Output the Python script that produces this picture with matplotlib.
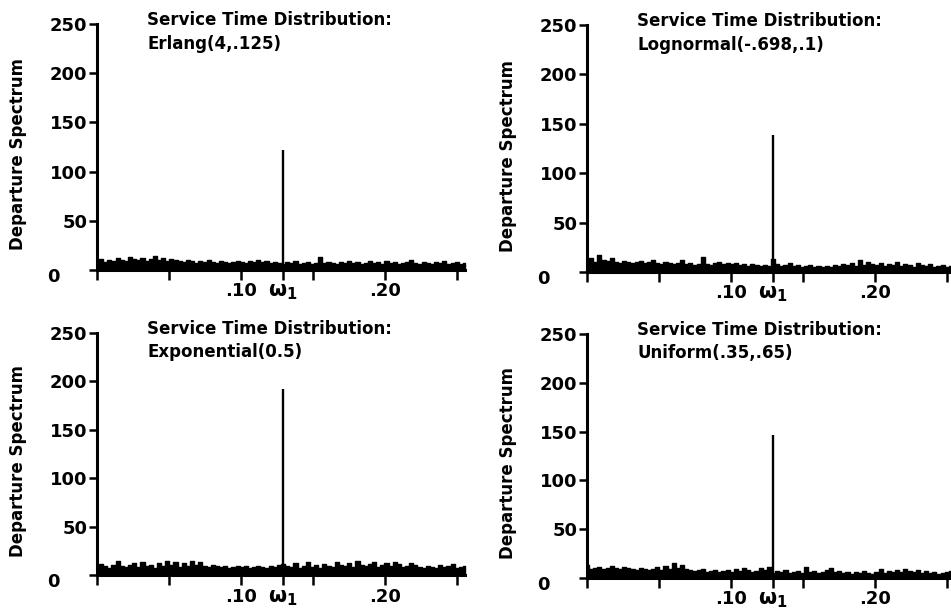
import numpy as np
import matplotlib
matplotlib.use("Agg")
import matplotlib.pyplot as plt

# ---- data ----
titles = ["Erlang(4,.125)", "Lognormal(-.698,.1)", "Exponential(0.5)", "Uniform(.35,.65)"]
title_line1 = "Service Time Distribution:"
spike_freq = 0.1289
spike_heights = [122, 139, 192, 147]
y_ticks = [0, 50, 100, 150, 200, 250]
y_ticklabels = ["", "50", "100", "150", "200", "250"]
x_ticks = [0.0, 0.05, 0.10, 0.1289, 0.15, 0.20, 0.25]
x_ticklabels = ["", "", ".10", r"$\mathbf{\omega_1}$", "", ".20", ""]
freq_max = 0.2556

noise_erlang = [9, 11, 8, 10, 9, 12, 10, 9, 13, 11, 10, 12, 9, 11, 14, 10, 12, 9, 11, 10, 9,
                8, 10, 9, 7, 9, 8, 10, 8, 7, 9, 8, 7, 8, 9,
                8, 7, 9, 8, 10, 8, 9, 7, 8, 7,
                6, 8, 7, 9, 6, 7, 8, 6, 7, 13, 7, 8, 7, 6, 8, 7, 9, 7, 8, 6, 7, 9, 7, 8, 6,
                9, 7, 8, 6, 7, 8, 10, 7, 6, 8, 7, 6, 8, 7, 9, 6, 7, 8, 6, 7]
noise_lognormal = [9, 14, 10, 17, 12, 11, 14, 10, 9, 11, 10, 9, 10, 11, 9, 10, 12, 9, 8, 10, 9,
                   8, 9, 12, 8, 9, 7, 8, 15, 8, 7, 9, 10, 8, 9,
                   8, 9, 7, 8, 6, 8, 7, 6, 7, 6,
                   13, 8, 6, 7, 9, 6, 7, 5, 6, 7, 5, 6, 5, 6, 5, 7, 6, 8, 7, 9, 6, 12, 7, 10, 8,
                   7, 9, 6, 8, 7, 10, 6, 8, 7, 5, 9, 7, 6, 8, 5, 6, 7, 5, 6, 8]
noise_exponential = [8, 11, 9, 7, 10, 14, 9, 8, 10, 12, 8, 13, 9, 10, 7, 12, 9, 14, 10, 13, 8,
                     12, 9, 14, 10, 13, 9, 8, 10, 9, 8, 9, 7, 8, 9,
                     8, 9, 7, 8, 9, 8, 7, 9, 8, 10,
                     11, 9, 8, 12, 7, 9, 13, 8, 10, 7, 11, 9, 8, 13, 10, 9, 12, 8, 14, 10, 9, 11, 13, 8, 10,
                     12, 9, 13, 11, 8, 9, 12, 10, 8, 7, 9, 8, 7, 10, 8, 9, 11, 7, 8, 9]
noise_uniform = [13, 9, 10, 11, 9, 10, 12, 10, 9, 11, 10, 9, 8, 10, 9, 8, 9, 11, 8, 12, 9,
                 15, 10, 13, 9, 8, 7, 8, 9, 6, 7, 8, 6, 7, 8,
                 6, 9, 7, 10, 8, 6, 7, 10, 8, 11,
                 5, 7, 6, 8, 5, 6, 7, 5, 11, 6, 7, 5, 6, 8, 10, 6, 7, 5, 6, 4, 6, 5, 7, 5, 4,
                 6, 9, 5, 7, 6, 8, 6, 9, 7, 6, 8, 5, 7, 5, 6, 4, 5, 6, 7, 5]
noise_series = [noise_erlang, noise_lognormal, noise_exponential, noise_uniform]

# ---- layout ----
W, H = 951, 614
fig = plt.figure(figsize=(W / 100, H / 100), dpi=100)
plt.rcParams["font.family"] = "DejaVu Sans"
plt.rcParams["mathtext.fontset"] = "dejavusans"

rects = [(97, 270, 24), (587, 272, 25), (97, 575, 333), (587, 578, 334)]
width_px = 368

for i, (left, bot, top) in enumerate(rects):
    ax = fig.add_axes([left / W, (H - bot) / H, width_px / W, (bot - top) / H])
    vals = noise_series[i]
    freq = np.linspace(0, freq_max, len(vals))
    ax.fill_between(freq, 0, vals, step="mid", color="black", lw=1.0, clip_on=False)
    ax.vlines(spike_freq, 0, spike_heights[i], color="black", lw=1.7)
    ax.set_xlim(0, freq_max)
    ax.set_ylim(0, 250)
    for s in ["top", "right"]:
        ax.spines[s].set_visible(False)
    for s in ["left", "bottom"]:
        ax.spines[s].set_linewidth(2.2)
    ax.set_yticks(y_ticks)
    ax.set_yticklabels(y_ticklabels, fontsize=13, fontweight="bold")
    ax.set_xticks(x_ticks)
    ax.set_xticklabels(x_ticklabels, fontsize=13, fontweight="bold")
    ax.get_xticklabels()[3].set_fontsize(15)
    ax.tick_params(axis="y", direction="out", length=6, width=1.8, pad=1)
    ax.tick_params(axis="x", direction="out", length=7, width=1.8, pad=2)
    ax.annotate("0", xy=(0, 0), xycoords="axes fraction", xytext=(-44, -7),
                textcoords="offset pixels", ha="center", va="center",
                fontsize=13, fontweight="bold")
    ax.set_ylabel("Departure Spectrum", fontsize=12, fontweight="bold")
    ax.yaxis.set_label_coords(-0.19, 0.47)
    ax.text(0.136, 249, title_line1, transform=ax.get_yaxis_transform(),
            fontsize=12, fontweight="bold", va="baseline", ha="left")
    ax.text(0.136, 225, titles[i], transform=ax.get_yaxis_transform(),
            fontsize=12, fontweight="bold", va="baseline", ha="left")

fig.savefig("out.png", dpi=100)
